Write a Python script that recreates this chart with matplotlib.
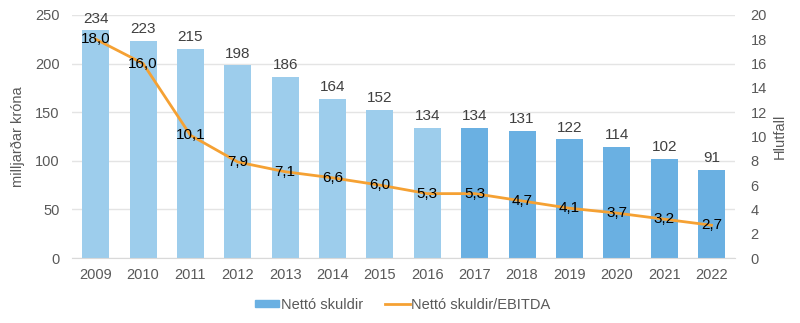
import numpy as np
import matplotlib
matplotlib.use('Agg')
import matplotlib.pyplot as plt
from matplotlib.patches import Patch
from matplotlib.lines import Line2D

years = ['2009', '2010', '2011', '2012', '2013', '2014', '2015',
         '2016', '2017', '2018', '2019', '2020', '2021', '2022']
skuldir = [234, 223, 215, 198, 186, 164, 152, 134, 134, 131, 122, 114, 102, 91]
hlutfall = [18.0, 16.0, 10.1, 7.9, 7.1, 6.6, 6.0, 5.3, 5.3, 4.7, 4.1, 3.7, 3.2, 2.7]

plt.rcParams['font.family'] = ['Liberation Sans', 'DejaVu Sans']
grey = '#595959'
light = '#9DCDEC'
dark = '#6AB0E2'
orange = '#F5A133'

fig = plt.figure(figsize=(8, 3.23), dpi=100)
ax = fig.add_axes([0.09, 0.201, 0.829, 0.753])
ax2 = ax.twinx()

x = np.arange(len(years))
cols = [light if int(y) <= 2016 else dark for y in years]
ax.bar(x, skuldir, width=0.57, color=cols, zorder=2)
for xi, v in zip(x, skuldir):
    ax.text(xi, v + 5, str(v), ha='center', va='bottom', fontsize=11, color='#404040')

ax.set_xlim(-0.5, len(years) - 0.5)
ax.set_ylim(0, 250)
ax.set_yticks(range(0, 251, 50))
ax.set_xticks(x)
ax.set_xticklabels(years)
ax.grid(axis='y', color='#E4E4E4', lw=1, zorder=0)
ax.set_axisbelow(True)
ax.set_ylabel('milljarðar króna', fontsize=10.5, color=grey, labelpad=7)
ax.tick_params(axis='both', length=0, labelsize=10.5, colors=grey, pad=9)
ax.tick_params(axis='x', pad=7)

ax2.plot(x, hlutfall, color=orange, lw=2, zorder=3)
for xi, v in zip(x, hlutfall):
    ax2.text(xi, v, ('%.1f' % v).replace('.', ','), ha='center', va='center',
             fontsize=11, color='black', zorder=4)
ax2.set_ylim(0, 20)
ax2.set_yticks(range(0, 21, 2))
ax2.set_ylabel('Hlutfall', fontsize=10.5, color=grey, labelpad=4)
ax2.tick_params(axis='y', length=0, labelsize=10.5, colors=grey, pad=11)

for a in (ax, ax2):
    for s in a.spines.values():
        s.set_visible(False)
ax.spines['bottom'].set_visible(True)
ax.spines['bottom'].set_color('#D9D9D9')

handles = [Patch(color=dark), Line2D([0], [0], color=orange, lw=2)]
fig.legend(handles, ['Nettó skuldir', 'Nettó skuldir/EBITDA'], loc='center',
           bbox_to_anchor=(0.503, 0.056), ncol=2, frameon=False, fontsize=10.5,
           labelcolor=grey, handlelength=1.7, handleheight=0.4,
           handletextpad=0.1, columnspacing=1.5)

fig.savefig('out.png', dpi=100)
